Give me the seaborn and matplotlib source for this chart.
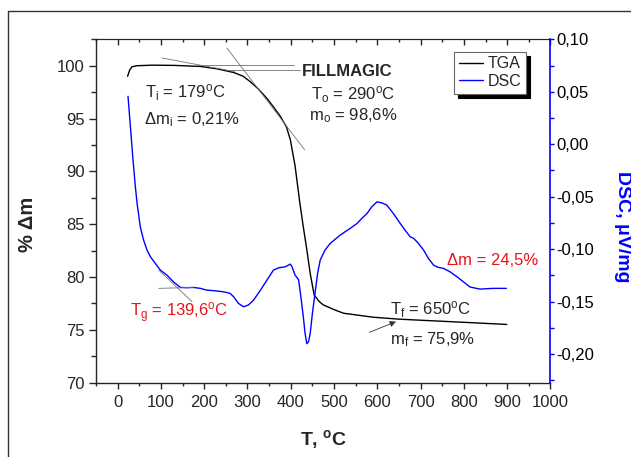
import matplotlib
matplotlib.use('Agg')
import matplotlib.pyplot as plt
from matplotlib.lines import Line2D
from matplotlib.ticker import MultipleLocator, FuncFormatter
import seaborn as sns

sns.set_style('ticks')
plt.rcParams['font.family'] = ['Liberation Sans', 'DejaVu Sans']
plt.rcParams['mathtext.fontset'] = 'custom'
plt.rcParams['mathtext.rm'] = 'Liberation Sans'
plt.rcParams['mathtext.it'] = 'Liberation Sans:italic'
plt.rcParams['mathtext.bf'] = 'Liberation Sans:bold'

# TGA curve (left axis, % mass)
tga_t = [23, 28, 33, 45, 80, 130, 191, 230, 268, 290, 306, 325, 345, 360, 376,
         390, 399, 410, 420, 428, 437, 445, 454, 465, 475, 500, 522, 560, 591,
         650, 699, 800, 899]
tga_mass = [99.0, 99.6, 99.9, 100.0, 100.05, 100.03, 99.93, 99.7, 99.36, 99.0,
            98.5, 97.8, 96.9, 96.1, 95.2, 94.2, 93.0, 90.5, 87.3, 85.0, 82.6,
            80.3, 78.3, 77.7, 77.35, 76.9, 76.56, 76.35, 76.18, 76.0, 75.9,
            75.7, 75.5]

# DSC curve (right axis, uV/mg)
dsc_t = [24, 29.6, 35, 41, 45, 52.4, 60, 68, 76, 87, 99, 114, 129, 145, 160,
         175, 191, 206, 225, 245, 260, 268, 279, 291, 302, 314, 330, 345, 360,
         372, 387, 399, 403, 410, 418, 423.4, 429, 433, 437, 441, 445, 450,
         456, 462, 468, 479, 491, 514, 537, 553, 564, 576, 587, 599, 610, 622,
         637, 653, 664, 676, 684, 695, 707, 718, 730, 741, 753, 768, 784, 799,
         814, 837, 868, 898]
dsc_signal = [0.0457, 0.0165, -0.012, -0.0406, -0.0564, -0.0787, -0.0913,
              -0.1009, -0.1073, -0.1135, -0.12, -0.1247, -0.1311, -0.1364,
              -0.1367, -0.1364, -0.1373, -0.139, -0.1396, -0.1406, -0.1421,
              -0.1453, -0.1516, -0.1548, -0.1532, -0.1485, -0.139, -0.1294,
              -0.1199, -0.1177, -0.1168, -0.1142, -0.1168, -0.1247, -0.129,
              -0.1453, -0.1644, -0.18, -0.19, -0.1882, -0.18, -0.1611, -0.142,
              -0.123, -0.1104, -0.1009, -0.0945, -0.0866, -0.0802, -0.0755,
              -0.0707, -0.066, -0.0597, -0.0549, -0.0558, -0.058, -0.066,
              -0.0755, -0.0818, -0.0882, -0.0897, -0.0945, -0.1009, -0.1088,
              -0.1152, -0.1173, -0.1183, -0.1215, -0.1263, -0.1311, -0.136,
              -0.138, -0.1373, -0.1373]

series_names = ['TGA', 'DSC']
red = '#e8141b'
blue = '#0000ff'

fig = plt.figure(figsize=(6.31, 4.57), dpi=100)
ax = fig.add_axes([0.1521, 0.163, 0.7203, 0.751])
ax2 = ax.twinx()

sns.lineplot(x=tga_t, y=tga_mass, ax=ax, color='black', lw=1,
             sort=False, estimator=None)
sns.lineplot(x=dsc_t, y=dsc_signal, ax=ax2, color=blue, lw=1,
             sort=False, estimator=None)
tga_line = ax.lines[0]
dsc_line = ax2.lines[0]

ax.set_xlim(-50, 1000)
ax.set_ylim(70, 102.5)
ax2.set_ylim(-0.227, 0.10)

# x axis ticks (bottom out, top in)
ax.xaxis.set_major_locator(MultipleLocator(100))
ax.xaxis.set_minor_locator(MultipleLocator(50))
ax.tick_params(axis='x', which='major', direction='out', length=4, width=1,
               pad=5, labelsize=12, color='0.15')
ax.tick_params(axis='x', which='minor', direction='out', length=2.2, width=1,
               color='0.15')
sec = ax.secondary_xaxis('top')
sec.xaxis.set_major_locator(MultipleLocator(100))
sec.xaxis.set_minor_locator(MultipleLocator(50))
sec.tick_params(which='major', direction='in', length=4, width=1,
                labeltop=False, color='0.15')
sec.tick_params(which='minor', direction='in', length=2.2, width=1,
                color='0.15')

# left y axis
ax.yaxis.set_major_locator(MultipleLocator(5))
ax.yaxis.set_minor_locator(MultipleLocator(2.5))
ax.tick_params(axis='y', which='major', direction='out', length=5, width=1,
               pad=3, labelsize=12, color='0.15')
ax.tick_params(axis='y', which='minor', direction='out', length=3.5, width=1,
               color='0.15')

# right y axis
ax2.yaxis.set_major_locator(MultipleLocator(0.05))
ax2.yaxis.set_minor_locator(MultipleLocator(0.025))
ax2.yaxis.set_major_formatter(
    FuncFormatter(lambda v, p: f'{round(v, 2) + 0.0:.2f}'.replace('.', ',')))
ax2.tick_params(axis='y', which='major', direction='out', length=3, width=1,
                pad=1, labelsize=12, color=blue, labelcolor='black')
ax2.tick_params(axis='y', which='minor', direction='out', length=3, width=1,
                color=blue)

for s in ['left', 'top', 'bottom']:
    ax2.spines[s].set_visible(False)
ax2.spines['right'].set_color(blue)
ax2.spines['right'].set_linewidth(1.2)
ax.spines['right'].set_visible(False)
for s in ['left', 'bottom']:
    ax.spines[s].set_color('0.15')
    ax.spines[s].set_linewidth(1)
sec.spines['top'].set_color('0.15')
ax.grid(False)
ax2.grid(False)

ax.set_xlabel(r'T, $^\mathbf{o}$C', fontsize=14, fontweight='bold',
              va='center')
ax.xaxis.set_label_coords(0.5, -0.1675)
ax.set_ylabel('% Δm', fontsize=14.5, fontweight='bold', rotation=90,
              va='center', ha='center', rotation_mode='anchor')
ax.yaxis.set_label_coords(-0.1507, 0.4618)
ax2.set_ylabel('DSC, μV/mg', color=blue, fontsize=14, fontweight='bold',
               rotation=-90, va='center', ha='center', rotation_mode='anchor')
ax2.yaxis.set_label_coords(1.1595, 0.454)

# tangent / guide lines
guide = dict(color='0.45', lw=0.6)
ax.plot([102.5, 270], [100.73, 99.45], **guide)
ax.plot([252.5, 432], [101.67, 92.04], **guide)
ax.plot([183, 408], [100.05, 100.05], **guide)
ax.plot([260, 422], [99.57, 99.57], **guide)
ax2.plot([95, 172], [-0.1199, -0.150], **guide)
ax2.plot([95, 175], [-0.1373, -0.1364], **guide)
ax.annotate('', xy=(649, 75.86), xytext=(576, 74.66),
            arrowprops=dict(arrowstyle='-|>', color='0.2', lw=0.6,
                            mutation_scale=9))

# annotations
fs = 12
ax.text(425.7, 99.02, 'FILLMAGIC', fontsize=12, fontweight='bold')
ax.text(64, 97.0, r'T$_\mathregular{i}$ = 179$^\mathregular{o}$C', fontsize=fs)
ax.text(60, 94.48, r'Δm$_\mathregular{i}$ = 0,21%', fontsize=fs)
ax.text(446.5, 96.75, r'T$_\mathregular{o}$ = 290$^\mathregular{o}$C', fontsize=fs)
ax.text(441, 94.8, r'm$_\mathregular{o}$ = 98,6%', fontsize=fs)
ax.text(29.3, 76.23, r'T$_\mathregular{g}$ = 139,6$^\mathregular{o}$C',
        fontsize=fs, color=red)
ax.text(629.6, 76.39, r'T$_\mathregular{f}$ = 650$^\mathregular{o}$C', fontsize=fs)
ax.text(629.6, 73.62, r'm$_\mathregular{f}$ = 75,9%', fontsize=fs)
ax.text(760.5, 81.13, 'Δm = 24,5%', fontsize=fs, color=red)

leg = ax2.legend(handles=[tga_line, dsc_line], labels=series_names,
                 loc='upper left', bbox_to_anchor=(0.7877, 0.9639),
                 borderaxespad=0, frameon=True, fancybox=False,
                 shadow={'ox': 3, 'oy': -3, 'color': 'black', 'alpha': 1},
                 fontsize=11.5, handlelength=1.5, handletextpad=0.3,
                 borderpad=0.3, labelspacing=0.15, edgecolor='0.4',
                 framealpha=1)
leg.get_frame().set_linewidth(0.8)

# outer frame
fig.add_artist(Line2D([8 / 631, 1], [0.976, 0.976], transform=fig.transFigure,
                      color='0.2', lw=1))
fig.add_artist(Line2D([8 / 631, 8 / 631], [0, 0.976], transform=fig.transFigure,
                      color='0.2', lw=1))

fig.savefig('out.png', dpi=100)
